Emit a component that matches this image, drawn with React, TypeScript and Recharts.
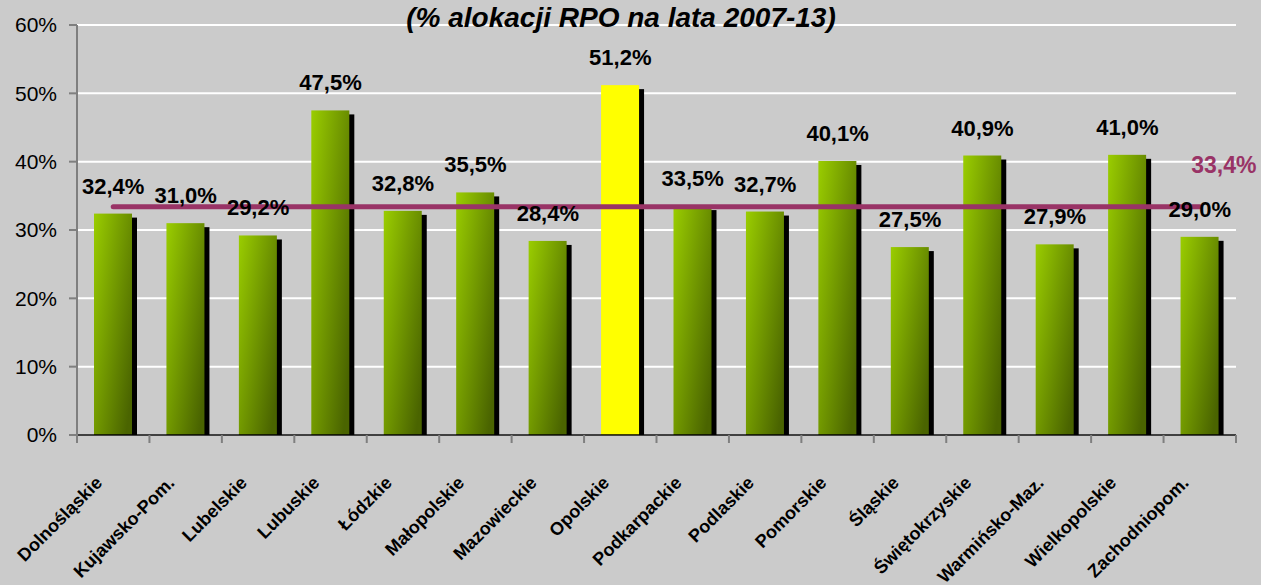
import React from 'react';
import { ComposedChart, Bar, Line, XAxis, YAxis, CartesianGrid, LabelList, Customized } from 'recharts';

const regions = [
  'Dolnośląskie', 'Kujawsko-Pom.', 'Lubelskie', 'Lubuskie', 'Łódzkie', 'Małopolskie',
  'Mazowieckie', 'Opolskie', 'Podkarpackie', 'Podlaskie', 'Pomorskie', 'Śląskie',
  'Świętokrzyskie', 'Warmińsko-Maz.', 'Wielkopolskie', 'Zachodniopom.',
];
const shares = [32.4, 31.0, 29.2, 47.5, 32.8, 35.5, 28.4, 51.2, 33.5, 32.7, 40.1, 27.5, 40.9, 27.9, 41.0, 29.0];
const shareLabels = ['32,4%', '31,0%', '29,2%', '47,5%', '32,8%', '35,5%', '28,4%', '51,2%', '33,5%', '32,7%', '40,1%', '27,5%', '40,9%', '27,9%', '41,0%', '29,0%'];
const highlightRegion = 'Opolskie';
const averageShare = 33.4;
const averageLabel = '33,4%';
const yTicks = [0, 10, 20, 30, 40, 50, 60];
const title = '(% alokacji RPO na lata 2007-13)';

const data = regions.map((r, i) => ({ region: r, share: shares[i], label: shareLabels[i], avg: averageShare }));

const FONT = "Arial, 'Liberation Sans', sans-serif";

const BarShape = (props: any) => {
  const { x, y, width, height, payload } = props;
  const hi = payload && payload.region === highlightRegion;
  return (
    <g>
      <rect x={x + 5} y={y + 4} width={width} height={Math.max(0, height - 4)} fill="#000000" />
      <rect x={x} y={y} width={width} height={height} fill={hi ? '#FFFF00' : 'url(#barGrad)'} />
    </g>
  );
};

const ValueLabel = (props: any) => {
  const { x, y, value } = props;
  return (
    <text x={x} y={y - 20} textAnchor="middle" fontSize={22} fontWeight="bold" fill="#000" fontFamily={FONT}>
      {value}
    </text>
  );
};

const AvgLabel = (props: any) => {
  const { x, y, index } = props;
  if (index !== regions.length - 1) return null;
  return (
    <text x={x + 24} y={y - 34} textAnchor="middle" fontSize={23} fontWeight="bold" fill="#993366" fontFamily={FONT}>
      {averageLabel}
    </text>
  );
};

const CategoryTick = (props: any) => {
  const { x, y, payload, index } = props;
  const half = payload && typeof payload.offset === 'number' && payload.offset > 0 ? payload.offset : 36.2;
  const last = index === regions.length - 1;
  const lx = x - 10;
  const ly = y + 49;
  return (
    <g>
      <line x1={x - half} y1={y} x2={x - half} y2={y + 8} stroke="#7f7f7f" strokeWidth={2} />
      {last ? <line x1={x + half} y1={y} x2={x + half} y2={y + 8} stroke="#7f7f7f" strokeWidth={2} /> : null}
      <text x={lx} y={ly} transform={`rotate(-45, ${lx}, ${ly})`} textAnchor="end" fontSize={18} fontWeight="bold" fill="#000" fontFamily={FONT}>
        {payload.value}
      </text>
    </g>
  );
};

const Title = () => (
  <text x={621} y={27} textAnchor="middle" fontSize={28} fontWeight="bold" fontStyle="italic" fill="#000" fontFamily={FONT}>
    {title}
  </text>
);

export default function App() {
  return (
    <div style={{ position: 'absolute', left: 0, top: 0, width: 1261, height: 585, background: '#CBCBCB' }}>
      <ComposedChart width={1261} height={585} data={data} margin={{ top: 25, right: 25, left: 0, bottom: 0 }}>
        <defs>
          <linearGradient id="barGrad" x1="0" y1="0" x2="1" y2="0.8">
            <stop offset="0%" stopColor="#9ACD00" />
            <stop offset="100%" stopColor="#4A6400" />
          </linearGradient>
        </defs>
        <CartesianGrid horizontal vertical={false} stroke="#FFFFFF" strokeWidth={2} />
        <XAxis
          dataKey="region"
          height={150}
          interval={0}
          tickSize={0}
          tickMargin={0}
          tickLine={false}
          axisLine={{ stroke: '#000', strokeWidth: 1.5 }}
          tick={<CategoryTick />}
        />
        <YAxis
          width={77}
          domain={[0, 60]}
          ticks={yTicks}
          tickFormatter={(v: number) => `${v}%`}
          tickSize={8}
          tickMargin={12}
          axisLine={{ stroke: '#7f7f7f', strokeWidth: 2 }}
          tickLine={{ stroke: '#7f7f7f', strokeWidth: 2 }}
          tick={{ fontSize: 21, fill: '#000', fontFamily: FONT }}
        />
        <Bar dataKey="share" barSize={38} shape={<BarShape />} isAnimationActive={false} />
        <Line dataKey="avg" stroke="#993366" strokeWidth={5} strokeLinecap="round" dot={false} activeDot={false} isAnimationActive={false}>
          <LabelList dataKey="avg" content={<AvgLabel />} />
        </Line>
        <Line dataKey="share" stroke="none" dot={false} activeDot={false} isAnimationActive={false}>
          <LabelList dataKey="label" content={<ValueLabel />} />
        </Line>
        <Customized component={Title} />
      </ComposedChart>
    </div>
  );
}
